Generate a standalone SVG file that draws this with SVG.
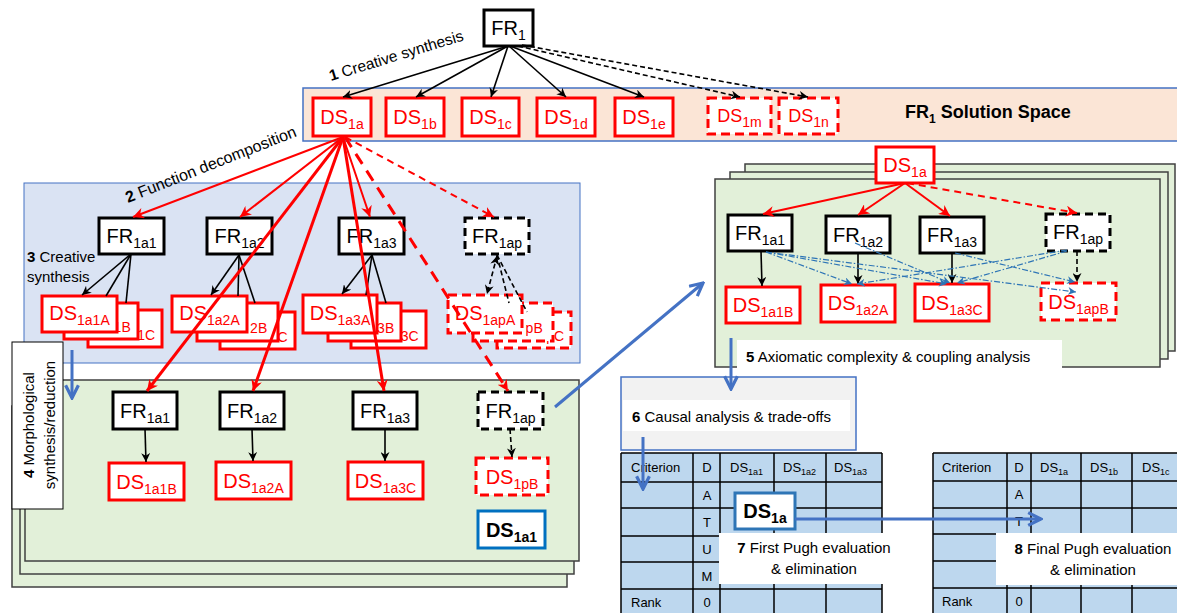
<svg xmlns="http://www.w3.org/2000/svg" width="1177" height="613" viewBox="0 0 1177 613">
<style>
text{font-family:"Liberation Sans",Arial,sans-serif;}
.t{font-size:20px;text-anchor:middle;fill:#000;}
.tr{fill:#f00;}
.sub{font-size:14px;}
.bs{font-size:14px;fill:#f00;}
.fr{fill:#fff;stroke:#000;stroke-width:3;}
.frd{fill:#fff;stroke:#000;stroke-width:3;stroke-dasharray:8 5;}
.ds{fill:#fff;stroke:#f00;stroke-width:3;}
.dsd{fill:#fff;stroke:#f00;stroke-width:3;stroke-dasharray:9 5;}
.gp{fill:#E2F0D9;stroke:#404040;stroke-width:1.5;}
.lb{font-size:15px;fill:#000;}
.tb{font-size:13px;fill:#000;}
.tbc{font-size:13px;fill:#000;text-anchor:middle;}
.ts{font-size:9px;}
.cell{fill:#BDD7EE;stroke:none;}
.grid{stroke:#000;stroke-width:1.5;fill:none;}
.k{stroke:#000;stroke-width:1.6;fill:none;}
.kd{stroke:#000;stroke-width:1.6;fill:none;stroke-dasharray:5 3;}
.r1{stroke:#f00;stroke-width:2;fill:none;}
.r1d{stroke:#f00;stroke-width:2;fill:none;stroke-dasharray:7 5;}
.r3{stroke:#f00;stroke-width:3;fill:none;}
.r3d{stroke:#f00;stroke-width:3;fill:none;stroke-dasharray:12 8;}
.bl{stroke:#4472C4;stroke-width:3;fill:none;}
.dd{stroke:#2E75B6;stroke-width:1.2;fill:none;stroke-dasharray:6 2 1.5 2;}
.wb{fill:#fff;stroke:none;}
</style>
<defs>
<marker id="ak" viewBox="0 0 10 10" refX="10" refY="5" markerWidth="9" markerHeight="9" markerUnits="userSpaceOnUse" orient="auto-start-reverse"><path d="M0,0 L10,5 L0,10 L3,5 z" fill="#000"/></marker>
<marker id="ar" viewBox="0 0 10 10" refX="10" refY="5" markerWidth="11" markerHeight="11" markerUnits="userSpaceOnUse" orient="auto"><path d="M0,0 L10,5 L0,10 L3,5 z" fill="#f00"/></marker>
<marker id="ab" viewBox="0 0 10 10" refX="9" refY="5" markerWidth="16" markerHeight="16" markerUnits="userSpaceOnUse" orient="auto"><path d="M1,1 L9,5 L1,9" fill="none" stroke="#4472C4" stroke-width="2"/></marker>
<marker id="ad" viewBox="0 0 10 10" refX="10" refY="5" markerWidth="8" markerHeight="8" markerUnits="userSpaceOnUse" orient="auto"><path d="M0,0 L10,5 L0,10 L3,5 z" fill="#2E75B6"/></marker>
</defs>

<g id="backgrounds">
<rect x="303" y="88" width="880" height="53" fill="#FBE5D6" stroke="#4472C4" stroke-width="1.5"/>
<rect x="24" y="183" width="556" height="180" fill="#DAE3F3" stroke="#4472C4" stroke-width="1"/>
<rect class="gp" x="12" y="406" width="555" height="181"/>
<rect class="gp" x="20" y="393" width="554" height="181"/>
<rect class="gp" x="25" y="380" width="554" height="181"/>
<rect class="gp" x="745" y="164" width="430" height="187"/>
<rect class="gp" x="730" y="172" width="438" height="187"/>
<rect class="gp" x="715" y="179" width="445" height="188"/>
<rect x="621" y="377" width="235" height="73" fill="#F2F2F2" stroke="#4472C4" stroke-width="1.5"/>
</g>

<g id="table1">
<rect class="cell" x="621" y="453" width="261" height="167"/>
<path class="grid" d="M621,453 H882 M621,482 H882 M621,508 H882 M621,536 H882 M621,562 H882 M621,589 H882 M621,453 V620 M693,453 V620 M720,453 V620 M774,453 V620 M826,453 V620 M882,453 V620"/>
<text class="tb" x="631" y="472">Criterion</text>
<text class="tbc" x="707" y="472">D</text>
<text class="tb" x="730" y="472">DS<tspan class="ts" dy="3">1a1</tspan></text>
<text class="tb" x="783" y="472">DS<tspan class="ts" dy="3">1a2</tspan></text>
<text class="tb" x="834" y="472">DS<tspan class="ts" dy="3">1a3</tspan></text>
<text class="tbc" x="707" y="500">A</text>
<text class="tbc" x="707" y="527">T</text>
<text class="tbc" x="707" y="554">U</text>
<text class="tbc" x="707" y="581">M</text>
<text class="tbc" x="707" y="607">0</text>
<text class="tb" x="631" y="607">Rank</text>
</g>

<g id="table2">
<rect class="cell" x="933" y="453" width="252" height="167"/>
<path class="grid" d="M933,453 H1185 M933,481 H1185 M933,508 H1185 M933,534 H1185 M933,561 H1185 M933,588 H1185 M933,453 V620 M1007,453 V620 M1031,453 V620 M1081,453 V620 M1132,453 V620"/>
<text class="tb" x="942" y="472">Criterion</text>
<text class="tbc" x="1019" y="472">D</text>
<text class="tb" x="1040" y="472">DS<tspan class="ts" dy="3">1a</tspan></text>
<text class="tb" x="1090" y="472">DS<tspan class="ts" dy="3">1b</tspan></text>
<text class="tb" x="1142" y="472">DS<tspan class="ts" dy="3">1c</tspan></text>
<text class="tbc" x="1019" y="499">A</text>
<text class="tbc" x="1019" y="526">T</text>
<text class="tbc" x="1019" y="606">0</text>
<text class="tb" x="942" y="606">Rank</text>
</g>

<g id="labels">
<text class="lb" x="905" y="118" style="font-size:18px;font-weight:bold">FR<tspan style="font-size:12px" dy="5">1</tspan><tspan dy="-5"> Solution Space</tspan></text>
<text class="lb" transform="translate(331,81) rotate(-17)" style="font-size:15.5px"><tspan font-weight="bold">1</tspan> Creative synthesis</text>
<text class="lb" transform="translate(128,203) rotate(-21.6)" style="font-size:16px"><tspan font-weight="bold">2</tspan> Function decomposition</text>
<text class="lb" x="27" y="262"><tspan font-weight="bold">3</tspan> Creative</text>
<text class="lb" x="27" y="282">synthesis</text>
<rect x="12" y="342" width="51" height="167" fill="#fff" stroke="#000" stroke-width="1"/>
<text class="lb" transform="translate(34,425) rotate(-90)" text-anchor="middle"><tspan font-weight="bold">4</tspan> Morphological</text>
<text class="lb" transform="translate(55,425) rotate(-90)" text-anchor="middle">synthesis/reduction</text>
<rect class="wb" x="737" y="340" width="325" height="30"/>
<text class="lb" x="746" y="362"><tspan font-weight="bold">5</tspan> Axiomatic complexity &amp; coupling analysis</text>
<rect class="wb" x="623" y="400" width="227" height="31"/>
<text class="lb" x="632" y="422"><tspan font-weight="bold">6</tspan> Causal analysis &amp; trade-offs</text>
<rect class="wb" x="719" y="533" width="181" height="51"/>
<text class="lb" x="814" y="553" text-anchor="middle"><tspan font-weight="bold">7</tspan> First Pugh evaluation</text>
<text class="lb" x="814" y="574" text-anchor="middle">&amp; elimination</text>
<rect class="wb" x="996" y="533" width="181" height="52"/>
<text class="lb" x="1093" y="554" text-anchor="middle"><tspan font-weight="bold">8</tspan> Final Pugh evaluation</text>
<text class="lb" x="1093" y="575" text-anchor="middle">&amp; elimination</text>
</g>

<g id="n-FR1"><rect class="fr" x="484" y="10" width="49" height="36"/><text class="t" x="508.5" y="35">FR<tspan class="sub" dy="5">1</tspan></text></g>
<g id="n-DS1a"><rect class="ds" x="313" y="98" width="58" height="38"/><text class="t tr" x="342" y="124">DS<tspan class="sub" dy="5">1a</tspan></text></g>
<g id="n-DS1b"><rect class="ds" x="386" y="98" width="58" height="38"/><text class="t tr" x="415" y="124">DS<tspan class="sub" dy="5">1b</tspan></text></g>
<g id="n-DS1c"><rect class="ds" x="462" y="98" width="57" height="38"/><text class="t tr" x="490.5" y="124">DS<tspan class="sub" dy="5">1c</tspan></text></g>
<g id="n-DS1d"><rect class="ds" x="537" y="98" width="58" height="38"/><text class="t tr" x="566" y="124">DS<tspan class="sub" dy="5">1d</tspan></text></g>
<g id="n-DS1e"><rect class="ds" x="615" y="98" width="58" height="38"/><text class="t tr" x="644" y="124">DS<tspan class="sub" dy="5">1e</tspan></text></g>
<g id="n-DS1m"><rect class="dsd" x="708" y="98" width="63" height="36"/><text class="t tr" x="739.5" y="122" style="font-size:18px">DS<tspan class="sub" dy="5">1m</tspan></text></g>
<g id="n-DS1n"><rect class="dsd" x="779" y="98" width="59" height="36"/><text class="t tr" x="808.5" y="122" style="font-size:18px">DS<tspan class="sub" dy="5">1n</tspan></text></g>

<g id="n-FR1a1-b"><rect class="fr" x="99" y="218" width="65" height="36"/><text class="t" x="131.5" y="243">FR<tspan class="sub" dy="5">1a1</tspan></text></g>
<g id="n-FR1a2-b"><rect class="fr" x="207" y="218" width="65" height="36"/><text class="t" x="239.5" y="243">FR<tspan class="sub" dy="5">1a2</tspan></text></g>
<g id="n-FR1a3-b"><rect class="fr" x="339" y="218" width="65" height="36"/><text class="t" x="371.5" y="243">FR<tspan class="sub" dy="5">1a3</tspan></text></g>
<g id="n-FR1ap-b"><rect class="frd" x="465" y="218" width="64" height="36"/><text class="t" x="497" y="243">FR<tspan class="sub" dy="5">1ap</tspan></text></g>

<g id="n-DS1a1-stack">
<rect class="ds" x="88" y="310" width="74" height="37"/><text class="bs" x="137.2" y="340">1C</text>
<rect class="ds" x="64" y="303" width="74" height="36"/><text class="bs" x="113.6" y="332">1B</text>
<rect class="ds" x="42" y="296" width="75" height="36"/><text class="t tr" x="79.5" y="320">DS<tspan class="sub" dy="5">1a1A</tspan></text>
</g>
<g id="n-DS1a2-stack">
<rect class="ds" x="220" y="312" width="75" height="37"/><text class="bs" x="269.7" y="342">2C</text>
<rect class="ds" x="197" y="303" width="81" height="38"/><text class="bs" x="250.1" y="333">2B</text>
<rect class="ds" x="172" y="296" width="75" height="36"/><text class="t tr" x="209.5" y="320">DS<tspan class="sub" dy="5">1a2A</tspan></text>
</g>
<g id="n-DS1a3-stack">
<rect class="ds" x="351" y="311" width="75" height="37"/><text class="bs" x="400.7" y="341">3C</text>
<rect class="ds" x="328" y="303" width="73" height="38"/><text class="bs" x="377.1" y="333">3B</text>
<rect class="ds" x="303" y="295" width="74" height="38"/><text class="t tr" x="340" y="320">DS<tspan class="sub" dy="5">1a3A</tspan></text>
</g>
<g id="n-DS1ap-stack">
<rect class="dsd" x="497" y="312" width="74" height="36"/><text class="bs" x="546.2" y="341">pC</text>
<rect class="dsd" x="473" y="303" width="80" height="38"/><text class="bs" x="525.6" y="333">pB</text>
<rect class="dsd" x="448" y="295" width="74" height="38"/><text class="t tr" x="485" y="320">DS<tspan class="sub" dy="5">1apA</tspan></text>
</g>

<g id="n-FR1a1-g"><rect class="fr" x="113" y="392" width="64" height="37"/><text class="t" x="145" y="418">FR<tspan class="sub" dy="5">1a1</tspan></text></g>
<g id="n-FR1a2-g"><rect class="fr" x="220" y="392" width="64" height="37"/><text class="t" x="252" y="418">FR<tspan class="sub" dy="5">1a2</tspan></text></g>
<g id="n-FR1a3-g"><rect class="fr" x="353" y="392" width="64" height="37"/><text class="t" x="385" y="418">FR<tspan class="sub" dy="5">1a3</tspan></text></g>
<g id="n-FR1ap-g"><rect class="frd" x="478" y="392" width="65" height="37"/><text class="t" x="510.5" y="418">FR<tspan class="sub" dy="5">1ap</tspan></text></g>
<g id="n-DS1a1B-g"><rect class="ds" x="109" y="463" width="75" height="37"/><text class="t tr" x="146.5" y="489">DS<tspan class="sub" dy="5">1a1B</tspan></text></g>
<g id="n-DS1a2A-g"><rect class="ds" x="216" y="462" width="75" height="37"/><text class="t tr" x="253.5" y="488">DS<tspan class="sub" dy="5">1a2A</tspan></text></g>
<g id="n-DS1a3C-g"><rect class="ds" x="348" y="462" width="75" height="37"/><text class="t tr" x="385.5" y="488">DS<tspan class="sub" dy="5">1a3C</tspan></text></g>
<g id="n-DS1pB-g"><rect class="dsd" x="476" y="458" width="72" height="37"/><text class="t tr" x="512" y="484">DS<tspan class="sub" dy="5">1pB</tspan></text></g>
<g id="n-DS1a1-result"><rect x="478" y="511" width="67" height="37" fill="#fff" stroke="#0070C0" stroke-width="3"/><text class="t" x="511.5" y="537" font-weight="bold">DS<tspan class="sub" dy="5">1a1</tspan></text></g>

<g id="n-DS1a-r"><rect class="ds" x="876" y="147" width="58" height="36"/><text class="t tr" x="905" y="172">DS<tspan class="sub" dy="5">1a</tspan></text></g>
<g id="n-FR1a1-r"><rect class="fr" x="728" y="215" width="64" height="36"/><text class="t" x="760" y="240">FR<tspan class="sub" dy="5">1a1</tspan></text></g>
<g id="n-FR1a2-r"><rect class="fr" x="826" y="216" width="64" height="37"/><text class="t" x="858" y="242">FR<tspan class="sub" dy="5">1a2</tspan></text></g>
<g id="n-FR1a3-r"><rect class="fr" x="920" y="217" width="64" height="36"/><text class="t" x="952" y="242">FR<tspan class="sub" dy="5">1a3</tspan></text></g>
<g id="n-FR1ap-r"><rect class="frd" x="1046" y="214" width="64" height="37"/><text class="t" x="1078" y="239">FR<tspan class="sub" dy="5">1ap</tspan></text></g>
<g id="n-DS1a1B-r"><rect class="ds" x="726" y="287" width="74" height="36"/><text class="t tr" x="763" y="312">DS<tspan class="sub" dy="5">1a1B</tspan></text></g>
<g id="n-DS1a2A-r"><rect class="ds" x="821" y="285" width="74" height="37"/><text class="t tr" x="858" y="310">DS<tspan class="sub" dy="5">1a2A</tspan></text></g>
<g id="n-DS1a3C-r"><rect class="ds" x="915" y="284" width="74" height="37"/><text class="t tr" x="952" y="310">DS<tspan class="sub" dy="5">1a3C</tspan></text></g>
<g id="n-DS1apB-r"><rect class="dsd" x="1041" y="283" width="75" height="37"/><text class="t tr" x="1078.5" y="309">DS<tspan class="sub" dy="5">1apB</tspan></text></g>

<g id="n-DS1a-pugh"><rect x="735" y="493" width="60" height="36" fill="#fff" stroke="#2E75B6" stroke-width="3"/><text class="t" x="765" y="518" font-weight="bold">DS<tspan class="sub" dy="5">1a</tspan></text></g>

<g id="connectors">
<path class="k" marker-end="url(#ak)" d="M508,46 L343,97"/>
<path class="k" marker-end="url(#ak)" d="M508,46 L416,97"/>
<path class="k" marker-end="url(#ak)" d="M508,46 L491,97"/>
<path class="k" marker-end="url(#ak)" d="M509,46 L566,97"/>
<path class="k" marker-end="url(#ak)" d="M510,46 L644,97"/>
<path class="kd" marker-end="url(#ak)" d="M518,46 L740,97"/>
<path class="kd" marker-end="url(#ak)" d="M522,45 L808,97"/>

<path class="k" marker-end="url(#ak)" d="M131,254 L82,295"/>
<path class="k" d="M131,254 L106,296"/>
<path class="k" d="M131,254 L126,303"/>
<path class="k" marker-end="url(#ak)" d="M239,255 L211,295"/>
<path class="k" d="M239,255 L238,296"/>
<path class="k" d="M239,255 L255,303"/>
<path class="k" marker-end="url(#ak)" d="M372,255 L342,294"/>
<path class="k" d="M372,255 L366,295"/>
<path class="k" d="M372,255 L386,303"/>
<path class="kd" marker-start="url(#ak)" marker-end="url(#ak)" d="M497,256 L487,294"/>
<path class="kd" d="M497,255 L509,303"/>
<path class="kd" d="M497,255 L527,312"/>

<path class="r1" marker-end="url(#ar)" d="M343,137 L133,217"/>
<path class="r1" marker-end="url(#ar)" d="M343,137 L240,217"/>
<path class="r1" marker-end="url(#ar)" d="M343,137 L370,217"/>
<path class="r1d" marker-end="url(#ar)" d="M345,137 L494,217"/>
<path class="r3" marker-end="url(#ar)" d="M343,137 L147,391"/>
<path class="r3" marker-end="url(#ar)" d="M343,137 L253,391"/>
<path class="r3" marker-end="url(#ar)" d="M343,137 L384,391"/>
<path class="r3d" marker-end="url(#ar)" d="M345,137 L508,391"/>

<path class="k" marker-end="url(#ak)" d="M145,429 L146,462"/>
<path class="k" marker-end="url(#ak)" d="M252,429 L253,461"/>
<path class="k" marker-end="url(#ak)" d="M385,429 L385,461"/>
<path class="kd" marker-end="url(#ak)" d="M510,429 L512,457"/>

<path class="r1" marker-end="url(#ar)" d="M905,183 L763,214"/>
<path class="r1" marker-end="url(#ar)" d="M905,183 L858,215"/>
<path class="r1" marker-end="url(#ar)" d="M905,183 L950,216"/>
<path class="r1d" marker-end="url(#ar)" d="M907,183 L1077,213"/>
<path class="k" marker-end="url(#ak)" d="M761,251 L762,286"/>
<path class="k" marker-end="url(#ak)" d="M858,253 L858,284"/>
<path class="k" marker-end="url(#ak)" d="M952,253 L952,283"/>
<path class="kd" marker-end="url(#ak)" d="M1077,251 L1077,282"/>

<path class="dd" marker-end="url(#ad)" d="M766,252 L852,284"/>
<path class="dd" marker-end="url(#ad)" d="M766,252 L947,284"/>
<path class="dd" marker-end="url(#ad)" d="M766,252 L1076,292"/>
<path class="dd" marker-end="url(#ad)" d="M855,243 L950,283"/>
<path class="dd" marker-end="url(#ad)" d="M955,253 L1075,282"/>
<path class="dd" marker-end="url(#ad)" d="M1067,250 L857,284"/>
<path class="dd" marker-end="url(#ad)" d="M1067,251 L957,283"/>

<path class="bl" marker-end="url(#ab)" d="M72,350 L72,398"/>
<path class="bl" marker-end="url(#ab)" d="M555,407 L703,283"/>
<path class="bl" marker-end="url(#ab)" d="M731,338 L731,389"/>
<path class="bl" marker-end="url(#ab)" d="M643,437 L643,489"/>
<path class="bl" marker-end="url(#ab)" d="M795,519 L1041,519"/>
</g>
</svg>
